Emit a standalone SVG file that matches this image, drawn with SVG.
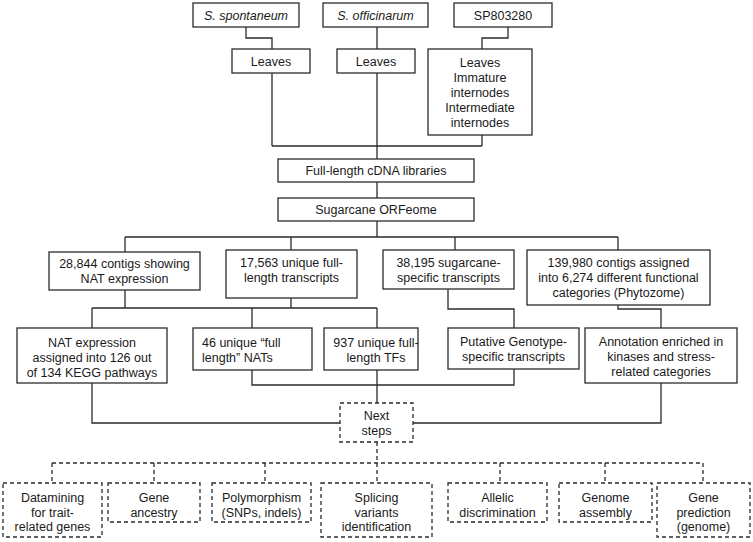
<svg xmlns="http://www.w3.org/2000/svg" width="753" height="542" viewBox="0 0 753 542">
<style>
.b{fill:#fff;stroke:#2b2b2b;stroke-width:1.3}
.d{fill:#fff;stroke:#2b2b2b;stroke-width:1.3;stroke-dasharray:4,3}
.c{fill:none;stroke:#2b2b2b;stroke-width:1.3}
.cd{fill:none;stroke:#2b2b2b;stroke-width:1.3;stroke-dasharray:4,3}
text{font-family:"Liberation Sans",Arial,sans-serif;font-size:12.5px;fill:#1a1a1a;text-anchor:middle}
.i{font-style:italic}
.l{text-anchor:start}
</style>
<rect width="753" height="542" fill="#fff"/>
<g id="connectors">
<path class="c" d="M246,27V38H272V49"/>
<path class="c" d="M377,27V49"/>
<path class="c" d="M508,27V38H482V49"/>
<path class="c" d="M272,73V146M482,135V146M272,146H482M377,73V159"/>
<path class="c" d="M377,182V198"/>
<path class="c" d="M377,221V237"/>
<path class="c" d="M125,237H618M125,237V252M291,237V250M455,237V250M618,237V250"/>
<path class="c" d="M125,290V308M291,298V308M92,308H377M92,308V328M252,308V328M377,308V328"/>
<path class="c" d="M448,289V309H514V328"/>
<path class="c" d="M618,305V309H661V328"/>
<path class="c" d="M92,383V423H340"/>
<path class="c" d="M252,370V385H514V369M377,370V403"/>
<path class="c" d="M661,383V423H413"/>
<path class="cd" d="M377,442V483M52,463H703M52,463V483M154,463V483M265,463V483M500,463V483M605,463V483M703,463V483"/>
</g>
<g id="n-spontaneum"><rect class="b" x="193" y="3" width="106" height="24"/><text class="i" x="246" y="19.5">S. spontaneum</text></g>
<g id="n-officinarum"><rect class="b" x="323" y="3" width="105" height="24"/><text class="i" x="375.5" y="19.5">S. officinarum</text></g>
<g id="n-sp803280"><rect class="b" x="454" y="3" width="98" height="24"/><text x="503" y="19.5">SP803280</text></g>
<g id="n-leaves1"><rect class="b" x="232" y="49" width="78" height="24"/><text x="271" y="65.5">Leaves</text></g>
<g id="n-leaves2"><rect class="b" x="337" y="49" width="78" height="24"/><text x="376" y="65.5">Leaves</text></g>
<g id="n-tissues"><rect class="b" x="428" y="49" width="104" height="86"/>
<text x="480" y="66.5">Leaves</text><text x="480" y="81.5">Immature</text><text x="480" y="96.5">internodes</text><text x="480" y="111.5">Intermediate</text><text x="480" y="126.5">internodes</text></g>
<g id="n-libraries"><rect class="b" x="278" y="159" width="196" height="23"/><text x="376" y="175">Full-length cDNA libraries</text></g>
<g id="n-orfeome"><rect class="b" x="278" y="198" width="196" height="23"/><text x="376" y="214">Sugarcane ORFeome</text></g>
<g id="n-nat"><rect class="b" x="49" y="252" width="151" height="38"/><text x="124.5" y="267.5">28,844 contigs showing</text><text x="124.5" y="282.5">NAT expression</text></g>
<g id="n-unique"><rect class="b" x="226" y="250" width="131" height="48"/><text x="291.5" y="267">17,563 unique full-</text><text x="291.5" y="282">length transcripts</text></g>
<g id="n-specific"><rect class="b" x="383" y="250" width="131" height="39"/><text x="448.5" y="267">38,195 sugarcane-</text><text x="448.5" y="282">specific transcripts</text></g>
<g id="n-contigs"><rect class="b" x="527" y="250" width="183" height="55"/><text x="618.5" y="267">139,980 contigs assigned</text><text x="618.5" y="282">into 6,274 different functional</text><text x="618.5" y="297">categories (Phytozome)</text></g>
<g id="n-kegg"><rect class="b" x="17" y="328" width="150" height="55"/><text x="92" y="346.5">NAT expression</text><text x="92" y="361.5">assigned into 126 out</text><text x="92" y="376.5">of 134 KEGG pathways</text></g>
<g id="n-nats"><rect class="b" x="193" y="328" width="119" height="42"/><text class="l" x="202" y="346.5">46 unique “full</text><text class="l" x="202" y="361.5">length” NATs</text></g>
<g id="n-tfs"><rect class="b" x="324" y="328" width="94" height="42"/><text x="376" y="346.5">937 unique full-</text><text x="376" y="361.5">length TFs</text></g>
<g id="n-putative"><rect class="b" x="448" y="328" width="131" height="41"/><text x="513.5" y="346">Putative Genotype-</text><text x="513.5" y="361">specific transcripts</text></g>
<g id="n-annotation"><rect class="b" x="585" y="328" width="152" height="55"/><text x="661" y="346">Annotation enriched in</text><text x="661" y="361">kinases and stress-</text><text x="661" y="376">related categories</text></g>
<g id="n-next"><rect class="d" x="340" y="403" width="73" height="39"/><text x="376.5" y="419.5">Next</text><text x="376.5" y="435">steps</text></g>
<g id="n-datamining"><rect class="d" x="3" y="483" width="99" height="54"/><text x="52.5" y="501.5">Datamining</text><text x="52.5" y="516.5">for trait-</text><text x="52.5" y="531">related genes</text></g>
<g id="n-ancestry"><rect class="d" x="108" y="483" width="92" height="39"/><text x="154" y="501.5">Gene</text><text x="154" y="516.5">ancestry</text></g>
<g id="n-polymorphism"><rect class="d" x="212" y="483" width="99" height="39"/><text x="261.5" y="501.5">Polymorphism</text><text x="261.5" y="516.5">(SNPs, indels)</text></g>
<g id="n-splicing"><rect class="d" x="321" y="483" width="111" height="54"/><text x="376.5" y="501.5">Splicing</text><text x="376.5" y="516.5">variants</text><text x="376.5" y="531">identification</text></g>
<g id="n-allelic"><rect class="d" x="448" y="483" width="99" height="39"/><text x="497.5" y="501.5">Allelic</text><text x="497.5" y="516.5">discrimination</text></g>
<g id="n-assembly"><rect class="d" x="559" y="483" width="93" height="39"/><text x="605.5" y="501.5">Genome</text><text x="605.5" y="516.5">assembly</text></g>
<g id="n-prediction"><rect class="d" x="657" y="483" width="93" height="54"/><text x="703.5" y="501.5">Gene</text><text x="703.5" y="516.5">prediction</text><text x="703.5" y="531">(genome)</text></g>
</svg>
